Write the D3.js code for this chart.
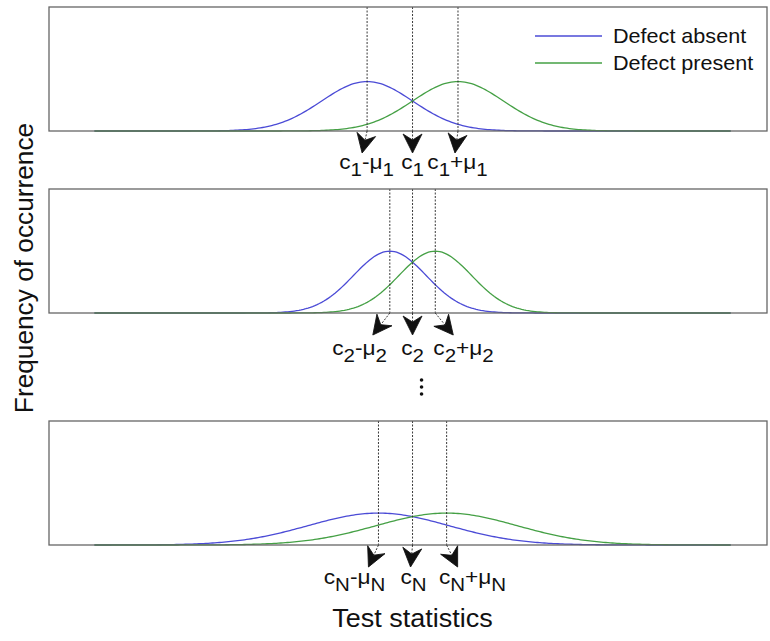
<!DOCTYPE html>
<html lang="en">

<head>
    <meta charset="UTF-8">
    <title>Test statistics distributions</title>
    <script src="https://d3js.org/d3.v7.min.js"></script>
    <style>
        body {
            margin: 0;
            background: #fff;
            overflow: hidden;
        }

        text {
            font-family: "Liberation Sans", Arial, sans-serif;
            fill: #111;
        }

        .frame {
            fill: none;
            stroke: #666;
            stroke-width: 1.3px;
        }

        .guide {
            stroke: #222;
            stroke-width: 0.9px;
            stroke-dasharray: 2, 1.5;
        }
    </style>
</head>

<body>
    <div id="chart"></div>
</body>

<script>
    // data (x in units of the test statistic)
    const panelNames = ["1", "2", "N"];
    const cValues = [0, 0, 0];
    const muValues = [1.0, 0.5, 0.75];
    const sigmaValues = [1.0, 0.8, 1.55];
    const seriesNames = ["Defect absent", "Defect present"];
    const seriesColors = ["#4b4bd6", "#45a045"];

    // layout
    const width = 770;
    const height = 641;
    const left = 49, right = 767;
    const panelTops = [7, 189, 421];
    const panelH = 124;
    // arrow tips and label centres, px offsets from each guide line / from c
    const tipDx = [[-5, 0, -3], [-17, 0, 18], [-10, -2, 11]];
    const tipDy = 22;
    const labelDx = [[-46, 0, 45], [-53, 0, 51], [-58, 1, 60]];
    const labelDy = [38, 42, 39];
    const stretch = 1.08;

    const svg = d3.select("#chart")
        .append("svg")
        .attr("width", width)
        .attr("height", height);

    const x = d3.scaleLinear().domain([-8, 7.8]).range([left, right]);
    const xs = d3.range(-7, 7.001, 0.05);
    const pdf = (v, m, s) => Math.exp(-0.5 * ((v - m) / s) ** 2) / (s * Math.sqrt(2 * Math.PI));

    function subLabel(g, parts) {
        // parts: [text, isSub] pairs
        const t = g.append("text").attr("text-anchor", "middle").style("font-size", "21px");
        let down = false;
        parts.forEach(([s, sub]) => {
            const ts = t.append("tspan").text(s);
            if (sub) { ts.attr("dy", 7).style("font-size", "19px"); down = true; }
            else if (down) { ts.attr("dy", -7); down = false; }
        });
    }

    function arrow(g, x0, y0, x1, y1) {
        const ang = Math.atan2(y1 - y0, x1 - x0);
        const L = 19, W = 9.5, N = 6;
        const len = Math.hypot(x1 - x0, y1 - y0);
        const back = Math.max(0, len - (L - N));
        g.append("line")
            .attr("class", "guide")
            .attr("x1", x0).attr("y1", y0)
            .attr("x2", x0 + Math.cos(ang) * back)
            .attr("y2", y0 + Math.sin(ang) * back);
        g.append("path")
            .attr("d", `M0,0 L${-L},${-W} L${-L + N},0 L${-L},${W} Z`)
            .attr("transform", `translate(${x1},${y1}) rotate(${ang * 180 / Math.PI})`)
            .attr("fill", "#111")
            .attr("stroke", "#111")
            .attr("stroke-width", 0.8)
            .attr("stroke-linejoin", "round");
    }

    panelNames.forEach((name, i) => {
        const top = panelTops[i];
        const bottom = top + panelH;
        const y = d3.scaleLinear().domain([0, 1]).range([bottom, top]);
        const g = svg.append("g");
        const c = cValues[i], mu = muValues[i], sd = sigmaValues[i];

        const line = d3.line().x(d => x(d[0])).y(d => y(d[1]));
        [c - mu, c + mu].forEach((m, k) => {
            g.append("path")
                .datum(xs.map(v => [v, pdf(v, m, sd)]))
                .attr("d", line)
                .attr("fill", "none")
                .attr("stroke", seriesColors[k])
                .attr("stroke-width", 1.3);
        });

        const guides = [c - mu, c, c + mu];
        guides.forEach(v => {
            g.append("line")
                .attr("class", "guide")
                .attr("x1", x(v)).attr("x2", x(v))
                .attr("y1", top).attr("y2", bottom);
        });

        g.append("rect")
            .attr("class", "frame")
            .attr("x", left).attr("y", top)
            .attr("width", right - left).attr("height", panelH);

        guides.forEach((v, k) => {
            arrow(g, x(v), bottom, x(v) + tipDx[i][k], bottom + tipDy);
        });

        const labels = [
            [["c", 0], [name, 1], ["-\u03bc", 0], [name, 1]],
            [["c", 0], [name, 1]],
            [["c", 0], [name, 1], ["+\u03bc", 0], [name, 1]]
        ];
        labels.forEach((parts, k) => {
            const lg = g.append("g")
                .attr("transform", `translate(${x(c) + labelDx[i][k]},${bottom + labelDy[i]}) scale(${stretch},1)`);
            subLabel(lg, parts);
        });
    });

    // vertical ellipsis between panel 2 and N
    svg.append("g").selectAll("circle")
        .data([0, 1, 2])
        .join("circle")
        .attr("cx", x(0) + 9)
        .attr("cy", d => 380 + d * 7)
        .attr("r", 1.8)
        .attr("fill", "#111");

    // legend
    const legend = svg.append("g");
    seriesNames.forEach((s, k) => {
        const ly = 36 + k * 27;
        legend.append("line")
            .attr("x1", 535).attr("x2", 602)
            .attr("y1", ly).attr("y2", ly)
            .attr("stroke", seriesColors[k])
            .attr("stroke-width", 1.3);
        legend.append("text")
            .attr("transform", `translate(613,${ly + 7}) scale(${stretch},1)`)
            .style("font-size", "20px")
            .text(s);
    });

    // axis titles
    svg.append("text")
        .attr("transform", `translate(${x(0)},627) scale(${stretch},1)`)
        .attr("text-anchor", "middle")
        .style("font-size", "25px")
        .text("Test statistics");

    svg.append("text")
        .attr("transform", "translate(33,268) rotate(-90) scale(1.05,1)")
        .attr("text-anchor", "middle")
        .style("font-size", "25px")
        .text("Frequency of occurrence");
</script>

</html>
